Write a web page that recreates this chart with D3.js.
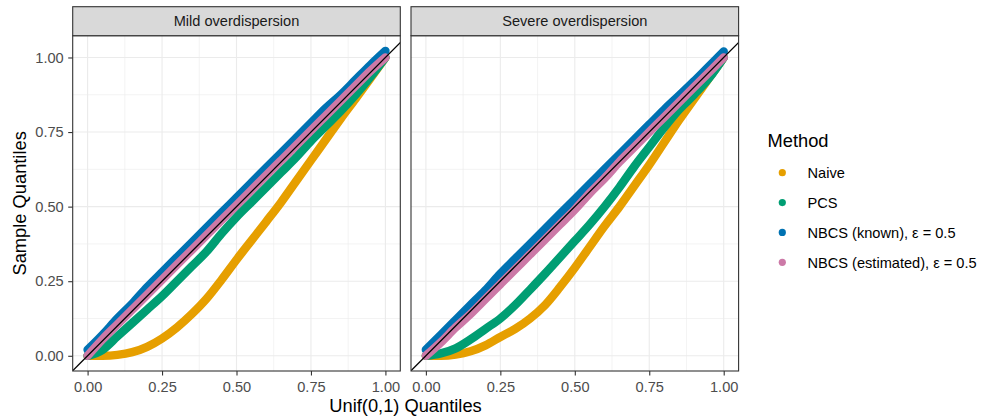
<!DOCTYPE html>
<html>
<head>
<meta charset="utf-8">
<script src="https://cdn.jsdelivr.net/npm/d3@7"></script>
<style>
  body { margin: 0; background: #fff; }
  svg text { font-family: "Liberation Sans", Arial, sans-serif; }
</style>
</head>
<body>
<svg id="chart" width="985" height="417"></svg>
<script>
const unifQ = [0, 0.05, 0.1, 0.15, 0.2, 0.25, 0.3, 0.35, 0.4, 0.45, 0.5,
               0.55, 0.6, 0.65, 0.7, 0.75, 0.8, 0.85, 0.9, 0.95, 1];

// Mild overdispersion
const mildNaive     = [0, 0.0, 0.003, 0.012, 0.03, 0.058, 0.095, 0.14, 0.192, 0.255, 0.322,
                       0.386, 0.45, 0.515, 0.585, 0.655, 0.725, 0.795, 0.862, 0.93, 1.0];
const mildPCS       = [0, 0.02, 0.065, 0.11, 0.155, 0.2, 0.25, 0.3, 0.35, 0.41, 0.465,
                       0.515, 0.565, 0.615, 0.665, 0.72, 0.77, 0.82, 0.875, 0.935, 1.0];
const mildKnown     = [0.02, 0.07, 0.125, 0.175, 0.23, 0.28, 0.33, 0.38, 0.43, 0.48, 0.53,
                       0.58, 0.63, 0.68, 0.73, 0.78, 0.83, 0.875, 0.925, 0.975, 1.022];
const mildEstimated = [0, 0.055, 0.105, 0.155, 0.205, 0.255, 0.305, 0.355, 0.405, 0.455, 0.505,
                       0.555, 0.605, 0.655, 0.705, 0.755, 0.805, 0.855, 0.905, 0.955, 1.0];

// Severe overdispersion
const severeNaive     = [0, 0.0, 0.004, 0.015, 0.035, 0.063, 0.09, 0.125, 0.17, 0.23, 0.295,
                         0.365, 0.435, 0.5, 0.57, 0.64, 0.715, 0.79, 0.86, 0.93, 1.0];
const severePCS       = [0, 0.008, 0.025, 0.055, 0.09, 0.125, 0.17, 0.222, 0.275, 0.33, 0.385,
                         0.44, 0.5, 0.565, 0.635, 0.7, 0.765, 0.825, 0.875, 0.93, 1.0];
const severeKnown     = [0.02, 0.07, 0.12, 0.17, 0.22, 0.275, 0.325, 0.375, 0.425, 0.475, 0.525,
                         0.575, 0.625, 0.675, 0.725, 0.775, 0.825, 0.872, 0.92, 0.97, 1.02];
const severeEstimated = [0, 0.045, 0.095, 0.14, 0.19, 0.24, 0.29, 0.34, 0.39, 0.44, 0.49,
                         0.545, 0.595, 0.65, 0.7, 0.75, 0.8, 0.85, 0.9, 0.95, 1.0];

const panelTitles = ['Mild overdispersion', 'Severe overdispersion'];
const methods = ['Naive', 'PCS', 'NBCS (known), ε = 0.5', 'NBCS (estimated), ε = 0.5'];
const methodColors = ['#E69F00', '#009E73', '#0072B2', '#CC79A7'];
const axisTicks = [0, 0.25, 0.5, 0.75, 1];
const minorTicks = [0.125, 0.375, 0.625, 0.875];

const panelData = [
  [mildNaive, mildPCS, mildKnown, mildEstimated],
  [severeNaive, severePCS, severeKnown, severeEstimated]
];

const svg = d3.select('#chart');

const panelTop = 35.7, panelBottom = 371, stripTop = 6.7;
const panelLefts = [72.7, 411];
const panelWidth = 327.6;

const y = d3.scaleLinear().domain([-0.051, 1.073]).range([panelBottom, panelTop]);
const fmt = d3.format('.2f');

panelTitles.forEach((title, p) => {
  const x0 = panelLefts[p];
  const x = d3.scaleLinear().domain([-0.05, 1.05]).range([x0, x0 + panelWidth]);

  const g = svg.append('g');

  // clip
  const clipId = 'clip' + p;
  svg.append('clipPath').attr('id', clipId)
    .append('rect')
    .attr('x', x0).attr('y', panelTop)
    .attr('width', panelWidth).attr('height', panelBottom - panelTop);

  // grid
  const grid = g.append('g');
  grid.selectAll('.vmin').data(minorTicks).enter().append('line')
    .attr('x1', d => x(d)).attr('x2', d => x(d))
    .attr('y1', panelTop).attr('y2', panelBottom)
    .attr('stroke', '#EBEBEB').attr('stroke-width', 0.6);
  grid.selectAll('.hmin').data(minorTicks).enter().append('line')
    .attr('y1', d => y(d)).attr('y2', d => y(d))
    .attr('x1', x0).attr('x2', x0 + panelWidth)
    .attr('stroke', '#EBEBEB').attr('stroke-width', 0.6);
  grid.selectAll('.vmaj').data(axisTicks).enter().append('line')
    .attr('x1', d => x(d)).attr('x2', d => x(d))
    .attr('y1', panelTop).attr('y2', panelBottom)
    .attr('stroke', '#EBEBEB').attr('stroke-width', 1.1);
  grid.selectAll('.hmaj').data(axisTicks).enter().append('line')
    .attr('y1', d => y(d)).attr('y2', d => y(d))
    .attr('x1', x0).attr('x2', x0 + panelWidth)
    .attr('stroke', '#EBEBEB').attr('stroke-width', 1.1);

  // data
  const marks = g.append('g').attr('clip-path', `url(#${clipId})`);
  const line = d3.line()
    .x((d, i) => x(unifQ[i]))
    .y(d => y(d))
    .curve(d3.curveMonotoneX);

  panelData[p].forEach((series, k) => {
    marks.append('path')
      .datum(series)
      .attr('fill', 'none')
      .attr('stroke', methodColors[k])
      .attr('stroke-width', 8.5)
      .attr('stroke-linecap', 'round')
      .attr('stroke-linejoin', 'round')
      .attr('d', line);
  });

  // y = x reference line
  marks.append('line')
    .attr('x1', x(-0.05)).attr('y1', y(-0.05))
    .attr('x2', x(1.1)).attr('y2', y(1.1))
    .attr('stroke', '#000').attr('stroke-width', 1.3);

  // border
  g.append('rect')
    .attr('x', x0).attr('y', panelTop)
    .attr('width', panelWidth).attr('height', panelBottom - panelTop)
    .attr('fill', 'none').attr('stroke', '#333333').attr('stroke-width', 1.1);

  // strip
  g.append('rect')
    .attr('x', x0).attr('y', stripTop)
    .attr('width', panelWidth).attr('height', panelTop - stripTop)
    .attr('fill', '#D9D9D9').attr('stroke', '#333333').attr('stroke-width', 1.1);
  g.append('text')
    .attr('x', x0 + panelWidth / 2).attr('y', 26.3)
    .attr('text-anchor', 'middle')
    .attr('font-size', 14.6).attr('fill', '#1A1A1A')
    .text(title);

  // x axis
  const xAxis = svg.append('g')
    .attr('transform', `translate(0,${panelBottom})`)
    .call(d3.axisBottom(x).tickValues(axisTicks).tickSize(4.5).tickPadding(6.5).tickFormat(fmt));
  xAxis.select('.domain').remove();
  xAxis.selectAll('line').attr('stroke', '#333333').attr('stroke-width', 1.1);
  xAxis.selectAll('text').attr('font-size', 14.6).attr('fill', '#4D4D4D')
    .attr('font-family', '"Liberation Sans", Arial, sans-serif');

  if (p === 0) {
    const yAxis = svg.append('g')
      .attr('transform', `translate(${x0},0)`)
      .call(d3.axisLeft(y).tickValues(axisTicks).tickSize(4.5).tickPadding(4.5).tickFormat(fmt));
    yAxis.select('.domain').remove();
    yAxis.selectAll('line').attr('stroke', '#333333').attr('stroke-width', 1.1);
    yAxis.selectAll('text').attr('font-size', 14.6).attr('fill', '#4D4D4D')
      .attr('font-family', '"Liberation Sans", Arial, sans-serif');
  }
});

// axis titles
svg.append('text')
  .attr('x', 405.5).attr('y', 412)
  .attr('text-anchor', 'middle')
  .attr('font-size', 18.3).attr('fill', '#000')
  .text('Unif(0,1) Quantiles');

svg.append('text')
  .attr('transform', `translate(25.5,${(panelTop + panelBottom) / 2}) rotate(-90)`)
  .attr('text-anchor', 'middle')
  .attr('font-size', 18.3).attr('fill', '#000')
  .text('Sample Quantiles');

// legend
const legend = svg.append('g');
legend.append('text')
  .attr('x', 767.5).attr('y', 146.5)
  .attr('font-size', 18.3).attr('fill', '#000')
  .text('Method');

const keyY = d3.scalePoint().domain(methods).range([172.7, 262.3]);
methods.forEach((m, i) => {
  legend.append('circle')
    .attr('cx', 782.3).attr('cy', keyY(m))
    .attr('r', 3.6)
    .attr('fill', methodColors[i]);
  legend.append('text')
    .attr('x', 807.5).attr('y', keyY(m) + 5.4)
    .attr('font-size', 14.6).attr('fill', '#000')
    .text(m);
});
</script>
</body>
</html>
